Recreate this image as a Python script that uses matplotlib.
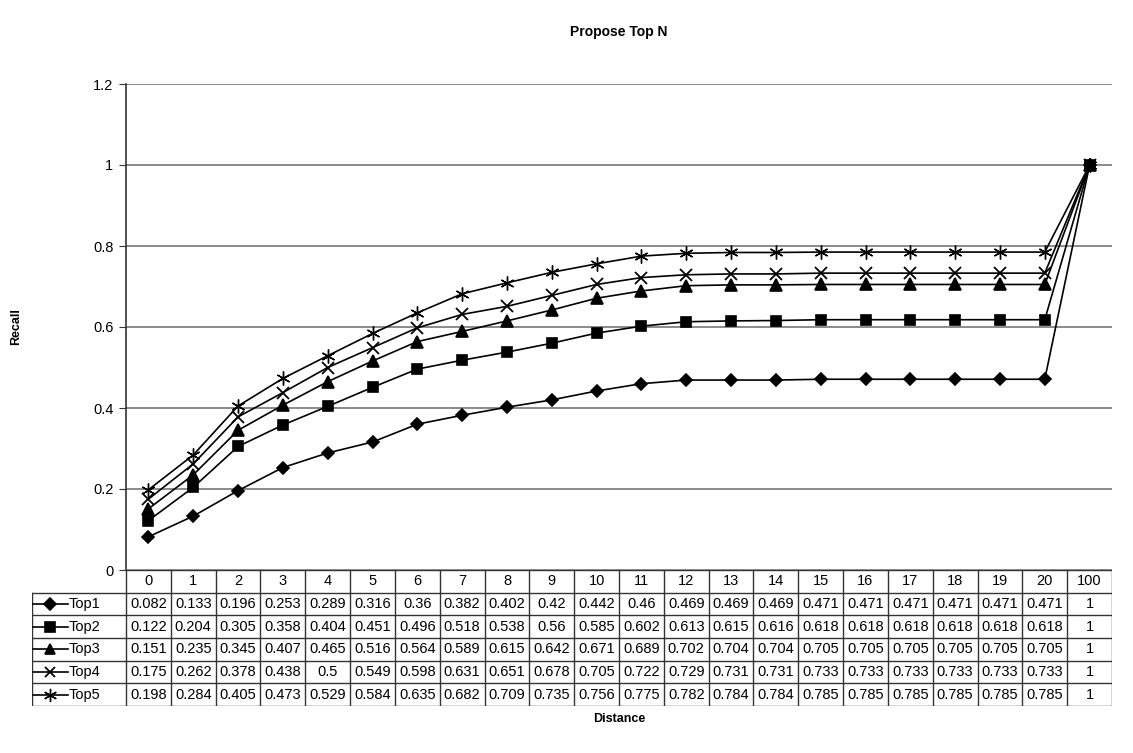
import matplotlib.pyplot as plt
import numpy as np

plt.rcParams['font.family'] = ['Liberation Sans', 'DejaVu Sans']

distance = ['0', '1', '2', '3', '4', '5', '6', '7', '8', '9', '10',
            '11', '12', '13', '14', '15', '16', '17', '18', '19', '20', '100']

top1 = [0.082, 0.133, 0.196, 0.253, 0.289, 0.316, 0.36, 0.382, 0.402, 0.42, 0.442,
        0.46, 0.469, 0.469, 0.469, 0.471, 0.471, 0.471, 0.471, 0.471, 0.471, 1]
top2 = [0.122, 0.204, 0.305, 0.358, 0.404, 0.451, 0.496, 0.518, 0.538, 0.56, 0.585,
        0.602, 0.613, 0.615, 0.616, 0.618, 0.618, 0.618, 0.618, 0.618, 0.618, 1]
top3 = [0.151, 0.235, 0.345, 0.407, 0.465, 0.516, 0.564, 0.589, 0.615, 0.642, 0.671,
        0.689, 0.702, 0.704, 0.704, 0.705, 0.705, 0.705, 0.705, 0.705, 0.705, 1]
top4 = [0.175, 0.262, 0.378, 0.438, 0.5, 0.549, 0.598, 0.631, 0.651, 0.678, 0.705,
        0.722, 0.729, 0.731, 0.731, 0.733, 0.733, 0.733, 0.733, 0.733, 0.733, 1]
top5 = [0.198, 0.284, 0.405, 0.473, 0.529, 0.584, 0.635, 0.682, 0.709, 0.735, 0.756,
        0.775, 0.782, 0.784, 0.784, 0.785, 0.785, 0.785, 0.785, 0.785, 0.785, 1]

names = ['Top1', 'Top2', 'Top3', 'Top4', 'Top5']
series = [top1, top2, top3, top4, top5]
markers = ['D', 's', '^', 'x', (6, 2, 0)]
msizes = [6, 7.5, 8, 8, 10]
mews = [1.2, 1.2, 1.2, 1.3, 1.0]

W, H = 1133, 753
fig = plt.figure(figsize=(W / 100, H / 100), dpi=100)

# plot area in pixel coordinates
px_l, px_r, px_t, px_b = 126, 1112, 84, 570
ax = fig.add_axes([px_l / W, 1 - px_b / H, (px_r - px_l) / W, (px_b - px_t) / H])

n = len(distance)
x = np.arange(n)
for vals, m, ms, mw in zip(series, markers, msizes, mews):
    ax.plot(x, vals, color='black', lw=1.2, marker=m, ms=ms,
            markerfacecolor='black', markeredgecolor='black', mew=mw)

ax.set_xlim(-0.5, n - 0.5)
ax.set_ylim(0, 1.2)
ax.set_yticks(np.arange(0, 1.21, 0.2))
ax.set_yticklabels(['0', '0.2', '0.4', '0.6', '0.8', '1', '1.2'], fontsize=10.5)
ax.yaxis.grid(True, color='#777777', lw=1.2)
ax.set_axisbelow(True)
ax.set_xticks([])
for s in ['top', 'right', 'bottom']:
    ax.spines[s].set_visible(False)
ax.spines['left'].set_color('#333333')
ax.spines['left'].set_linewidth(1.2)
ax.tick_params(axis='y', length=5, direction='out', color='#333333', pad=4)

fig.text(619 / W, 1 - 32 / H, 'Propose Top N',
         ha='center', va='center', fontsize=10, fontweight='bold')
fig.text(16 / W, 1 - 327 / H, 'Recall', rotation=90, ha='center', va='center',
         fontsize=9, fontweight='bold')
fig.text(619 / W, 1 - 719 / H, 'Distance', ha='center', va='center',
         fontsize=9, fontweight='bold')

# data table below the plot area
tb_l, tb_b = 32, 706
cw = (px_r - px_l) / n
tax = fig.add_axes([tb_l / W, 1 - tb_b / H, (px_r - tb_l) / W, (tb_b - px_b) / H])
xl = -0.5 - (px_l - tb_l) / cw
tax.set_xlim(xl, n - 0.5)
tax.set_ylim(6, 0)
tax.axis('off')
lc = dict(color='#333333', lw=1.0)

# header row and grid
tax.plot([-0.5, n - 0.5], [0, 0], **lc)
for i in range(n + 1):
    tax.plot([i - 0.5, i - 0.5], [0, 6], **lc)
tax.plot([xl, xl], [1, 6], **lc)
for r in range(1, 7):
    tax.plot([xl, n - 0.5], [r, r], **lc)
for i, lab in enumerate(distance):
    tax.text(i, 0.5, lab, ha='center', va='center', fontsize=10.5)

# series rows with legend keys
for r, (nm, vals, m, ms, mw) in enumerate(zip(names, series, markers, msizes, mews)):
    yc = r + 1.5
    tax.plot([xl + 0.03, xl + 0.8], [yc, yc], color='black', lw=1.2)
    tax.plot([xl + 0.41], [yc], color='black', marker=m, ms=ms * 0.95,
             markerfacecolor='black', mew=mw)
    tax.text(xl + 0.82, yc, nm, ha='left', va='center', fontsize=10.5)
    for i, v in enumerate(vals):
        tax.text(i, yc, '%g' % v, ha='center', va='center', fontsize=10.5)

fig.savefig('out.png', dpi=100)
